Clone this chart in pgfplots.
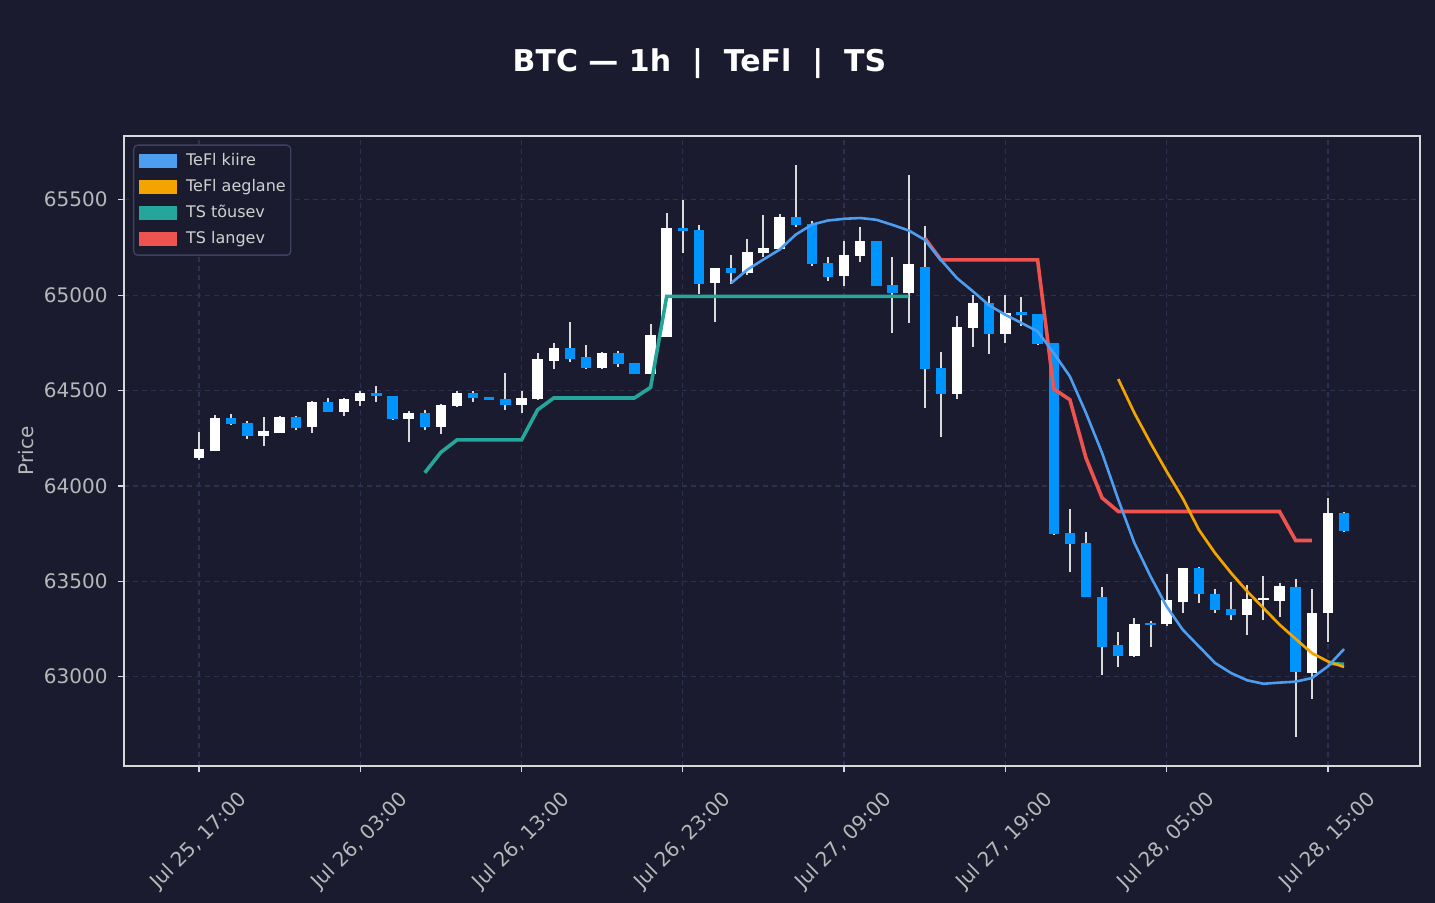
\documentclass[border=0pt]{standalone}
\usepackage{fontspec}
\setmainfont{DejaVu Sans}
\usepackage{pgfplots}
\pgfplotsset{compat=1.18}
\usepackage{pgfplotstable}
\definecolor{bgcol}{HTML}{1A1B2E}
\definecolor{gridcol}{HTML}{2E3050}
\definecolor{framecol}{HTML}{D8D8D8}
\definecolor{labcol}{HTML}{B8B8B8}
\definecolor{legtext}{HTML}{D0D0D0}
\definecolor{legborder}{HTML}{3E4062}
\definecolor{upcol}{HTML}{FFFFFF}
\definecolor{downcol}{HTML}{0094FF}
\definecolor{wickcol}{HTML}{DADADA}
\definecolor{kiirecol}{HTML}{4D9DF0}
\definecolor{aeglcol}{HTML}{F3A400}
\definecolor{tousevcol}{HTML}{26A69A}
\definecolor{langevcol}{HTML}{EF5350}

\pgfplotstableread{
i o h l c
0 64144 64284 64134 64195
1 64186 64373 64183 64356
2 64356 64378 64320 64322
3 64331 64342 64247 64265
4 64265 64363 64211 64289
5 64280 64368 64278 64363
6 64363 64369 64295 64307
7 64307 64446 64280 64441
8 64441 64462 64388 64390
9 64390 64460 64369 64457
10 64448 64500 64422 64488
11 64487 64525 64441 64474
12 64471 64473 64347 64352
13 64354 64394 64233 64384
14 64382 64399 64291 64309
15 64309 64431 64270 64426
16 64417 64499 64415 64487
17 64487 64499 64438 64459
18 64467 64468 64449 64450
19 64455 64593 64401 64424
20 64424 64499 64380 64461
21 64455 64697 64453 64665
22 64655 64750 64616 64723
23 64723 64861 64647 64668
24 64676 64740 64616 64618
25 64618 64705 64616 64698
26 64698 64705 64626 64639
27 64644 64646 64584 64590
28 64590 64850 64588 64792
29 64783 65433 64781 65352
30 65352 65500 65224 65336
31 65341 65369 65007 65058
32 65067 65144 64857 65142
33 65142 65210 65060 65116
34 65116 65294 65107 65226
35 65221 65421 65200 65247
36 65242 65427 65240 65409
37 65409 65683 65360 65365
38 65373 65390 65150 65163
39 65168 65201 65077 65098
40 65098 65285 65051 65210
41 65203 65357 65177 65285
42 65285 65287 65049 65051
43 65053 65200 64801 65011
44 65011 65631 64854 65163
45 65150 65364 64408 64613
46 64618 64700 64256 64482
47 64482 64892 64455 64833
48 64828 65002 64731 64959
49 64959 64997 64691 64796
50 64796 65002 64747 64906
51 64911 64988 64841 64896
52 64902 64904 64742 64744
53 64749 64751 63746 63748
54 63753 63880 63550 63695
55 63701 63760 63416 63418
56 63421 63470 63007 63159
57 63166 63236 63054 63112
58 63112 63309 63101 63276
59 63281 63295 63159 63271
60 63279 63540 63269 63404
61 63395 63572 63334 63570
62 63570 63578 63386 63433
63 63435 63461 63334 63350
64 63355 63498 63299 63323
65 63323 63482 63222 63407
66 63402 63529 63299 63414
67 63395 63491 63316 63473
68 63473 63512 62684 63028
69 63023 63460 62883 63337
70 63334 63937 63185 63861
71 63861 63865 63760 63764
}\candles

\pgfplotstableread{
i v
33 65063
34 65133
35 65187
36 65238
37 65317
38 65369
39 65391
40 65400
41 65404
42 65395
43 65368
44 65339
45 65290
46 65185
47 65089
48 65019
49 64946
50 64897
51 64854
52 64810
53 64696
54 64574
55 64382
56 64172
57 63928
58 63701
59 63526
60 63368
61 63246
62 63159
63 63072
64 63019
65 62981
66 62963
67 62969
68 62974
69 62993
70 63054
71 63145
}\kiire

\pgfplotstableread{
i v
57 64560
58 64382
59 64225
60 64076
61 63935
62 63770
63 63648
64 63543
65 63447
66 63360
67 63273
68 63198
69 63124
70 63080
71 63051
}\aeglane

\pgfplotstableread{
i v
14 64069
15 64176
16 64241
17 64241
18 64241
19 64241
20 64241
21 64399
22 64461
23 64461
24 64461
25 64461
26 64461
27 64461
28 64516
29 64993
30 64993
31 64993
32 64993
33 64993
34 64993
35 64993
36 64993
37 64993
38 64993
39 64993
40 64993
41 64993
42 64993
43 64993
44 64993
45 nan
70 63070
71 63065
}\tousev

\pgfplotstableread{
i v
45 65299
46 65185
47 65185
48 65185
49 65185
50 65185
51 65185
52 65185
53 64508
54 64452
55 64146
56 63937
57 63866
58 63866
59 63866
60 63866
61 63866
62 63866
63 63866
64 63866
65 63866
66 63866
67 63866
68 63714
69 63714
}\langev

\begin{document}
\begin{tikzpicture}
\fill[bgcol] (-62pt,-68.5pt) rectangle (655.5pt,383pt);
\begin{axis}[
  at={(0pt,0pt)}, anchor=south west,
  scale only axis, width=648pt, height=315pt,
  xmin=-4.65, xmax=75.71, ymin=62532, ymax=65834,
  axis line style={draw=framecol, line width=0.75pt},
  xtick pos=bottom, ytick pos=left,
  tick align=outside, major tick length=3pt,
  major tick style={draw=framecol, line width=0.6pt},
  xtick={0,10,20,30,40,50,60,70},
  xticklabels={{Jul 25, 17:00},{Jul 26, 03:00},{Jul 26, 13:00},{Jul 26, 23:00},{Jul 27, 09:00},{Jul 27, 19:00},{Jul 28, 05:00},{Jul 28, 15:00}},
  ytick={63000,63500,64000,64500,65000,65500},
  grid=major,
  major grid style={draw=gridcol, dash pattern=on 2.5pt off 2pt, line width=0.6pt},
  tick label style={font=\fontsize{10}{12}\selectfont, text=labcol},
  /pgf/number format/assume math mode=true,
  /pgf/number format/1000 sep={},
  scaled y ticks=false,
  xticklabel style={yshift=-34.5pt, rotate=45, anchor=center, inner sep=0pt},
  yticklabel style={anchor=east, inner sep=0pt, xshift=-5pt},
  ylabel={Price},
  ylabel style={at={(axis description cs:-0.070,0.5)}, anchor=base, font=\fontsize{10}{12}\selectfont, text=labcol},
  legend style={at={(axis description cs:0,1)}, anchor=north west, xshift=4.5pt, yshift=-4.25pt,
    fill=bgcol, draw=legborder, line width=0.7pt, rounded corners=2pt,
    font=\fontsize{8}{9.6}\selectfont, text=legtext,
    inner xsep=2.5pt, inner ysep=4.1pt, row sep=5.2pt,
    nodes={inner sep=0pt, text height=6pt, text depth=1.8pt, text=legtext}},
  legend cell align=left,
]
% wicks
\addplot[draw=none, no markers, forget plot,
  error bars/.cd, y dir=both, y explicit, error mark=none,
  error bar style={draw=wickcol, line width=1pt}]
  table[x=i, y expr={(\thisrow{h}+\thisrow{l})/2}, y error expr={(\thisrow{h}-\thisrow{l})/2}] {\candles};
% up bodies
\addplot[draw=none, no markers, forget plot,
  restrict expr to domain={\thisrow{c}-\thisrow{o}}{0:100000},
  error bars/.cd, y dir=both, y explicit, error mark=none,
  error bar style={draw=upcol, line width=5.2pt}]
  table[x=i, y expr={(\thisrow{o}+\thisrow{c})/2}, y error expr={abs(\thisrow{c}-\thisrow{o})/2}] {\candles};
% down bodies
\addplot[draw=none, no markers, forget plot,
  restrict expr to domain={\thisrow{c}-\thisrow{o}}{-100000:0},
  error bars/.cd, y dir=both, y explicit, error mark=none,
  error bar style={draw=downcol, line width=5.2pt}]
  table[x=i, y expr={(\thisrow{o}+\thisrow{c})/2}, y error expr={abs(\thisrow{c}-\thisrow{o})/2}] {\candles};
% lines
\addplot[forget plot, no markers, draw=tousevcol, line width=1.8pt, unbounded coords=jump] table[x=i, y=v] {\tousev};
\addplot[forget plot, no markers, draw=langevcol, line width=1.8pt] table[x=i, y=v] {\langev};
\addplot[forget plot, no markers, draw=aeglcol, line width=1.35pt] table[x=i, y=v] {\aeglane};
\addplot[forget plot, no markers, draw=kiirecol, line width=1.3pt] table[x=i, y=v] {\kiire};
% legend
\addlegendimage{legend image code/.code={\fill[kiirecol, sharp corners] (0pt,-3.25pt) rectangle (18.5pt,3.25pt); \path (23pt,0pt);}}
\addlegendentry{TeFl kiire}
\addlegendimage{legend image code/.code={\fill[aeglcol, sharp corners] (0pt,-3.25pt) rectangle (18.5pt,3.25pt); \path (23pt,0pt);}}
\addlegendentry{TeFl aeglane}
\addlegendimage{legend image code/.code={\fill[tousevcol, sharp corners] (0pt,-3.25pt) rectangle (18.5pt,3.25pt); \path (23pt,0pt);}}
\addlegendentry{TS tõusev}
\addlegendimage{legend image code/.code={\fill[langevcol, sharp corners] (0pt,-3.25pt) rectangle (18.5pt,3.25pt); \path (23pt,0pt);}}
\addlegendentry{TS langev}
\end{axis}
\node[anchor=base, font=\fontsize{15}{18}\selectfont\bfseries, text=white] at (287.75pt,347.15pt) {BTC — 1h\ \ |\ \ TeFl\ \ |\ \ TS};
\pgfresetboundingbox
\useasboundingbox (-62pt,-68.5pt) rectangle (655.5pt,383pt);
\end{tikzpicture}
\end{document}
